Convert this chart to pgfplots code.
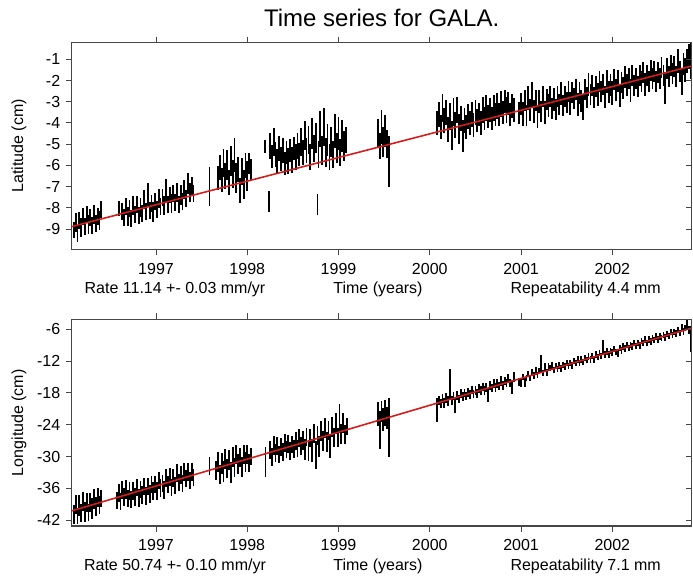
\documentclass[border=0pt]{standalone}
\usepackage{fontspec}
\setmainfont{Liberation Sans}
\usepackage{pgfplots}
\usepackage{pgfplotstable}
\pgfplotsset{compat=1.18}

\definecolor{fitred}{RGB}{210,30,30}
\definecolor{frame}{RGB}{70,70,70}

% daily latitude positions (cm): time, value, half error bar
\pgfplotstableread{
t y e
1996.10 -9.05 0.40
1996.12 -8.70 0.45
1996.14 -9.20 0.40
1996.16 -8.60 0.40
1996.18 -8.95 0.45
1996.20 -8.40 0.40
1996.22 -8.90 0.40
1996.24 -8.30 0.40
1996.26 -8.80 0.45
1996.28 -8.45 0.40
1996.30 -8.85 0.40
1996.32 -8.30 0.45
1996.34 -8.75 0.40
1996.36 -8.40 0.40
1996.38 -8.60 0.45
1996.40 -8.10 0.40
1996.59 -8.05 0.35
1996.63 -8.20 0.40
1996.65 -8.45 0.40
1996.67 -7.95 0.40
1996.69 -8.40 0.45
1996.71 -8.05 0.40
1996.73 -8.50 0.40
1996.75 -7.90 0.45
1996.77 -8.30 0.40
1996.79 -7.85 0.40
1996.81 -8.35 0.40
1996.83 -8.00 0.45
1996.85 -8.25 0.40
1996.87 -7.60 0.45
1996.89 -8.20 0.40
1996.91 -7.40 0.55
1996.93 -8.15 0.40
1996.95 -7.80 0.40
1996.97 -8.20 0.45
1996.99 -7.70 0.40
1997.01 -8.10 0.40
1997.03 -7.55 0.45
1997.05 -7.95 0.40
1997.07 -7.50 0.40
1997.09 -7.90 0.45
1997.11 -7.20 0.55
1997.13 -7.85 0.40
1997.15 -7.40 0.40
1997.17 -7.80 0.45
1997.19 -7.35 0.40
1997.21 -7.75 0.40
1997.23 -7.30 0.45
1997.25 -7.85 0.40
1997.27 -7.40 0.45
1997.29 -7.70 0.40
1997.31 -7.15 0.45
1997.33 -7.55 0.40
1997.35 -6.85 0.50
1997.37 -7.30 0.45
1997.39 -7.00 0.45
1997.41 -7.35 0.40
1997.585 -7.00 0.90
1997.68 -6.60 0.55
1997.70 -6.10 0.60
1997.72 -6.70 0.55
1997.74 -5.90 0.65
1997.76 -6.50 0.60
1997.78 -6.00 0.70
1997.80 -6.80 0.60
1997.82 -5.80 0.70
1997.84 -6.40 0.65
1997.86 -5.50 0.80
1997.88 -6.60 0.70
1997.90 -6.20 0.60
1997.92 -7.20 0.60
1997.94 -6.30 0.65
1997.96 -6.90 0.70
1997.98 -6.00 0.60
1998.00 -6.50 0.70
1998.02 -5.90 0.50
1998.04 -6.20 0.50
1998.19 -5.10 0.30
1998.235 -7.70 0.50
1998.25 -5.10 0.60
1998.27 -5.60 0.55
1998.29 -4.90 0.65
1998.31 -5.50 0.60
1998.33 -5.80 0.55
1998.35 -5.20 0.60
1998.37 -5.70 0.55
1998.39 -5.30 0.60
1998.41 -5.90 0.55
1998.43 -5.40 0.55
1998.45 -5.80 0.60
1998.47 -5.30 0.55
1998.49 -5.75 0.60
1998.51 -5.20 0.55
1998.53 -5.60 0.60
1998.55 -5.10 0.60
1998.57 -5.50 0.55
1998.59 -4.90 0.65
1998.61 -5.40 0.60
1998.63 -4.60 0.70
1998.65 -5.30 0.60
1998.67 -4.80 0.65
1998.69 -5.60 0.60
1998.71 -4.50 0.75
1998.73 -5.20 0.65
1998.75 -4.70 0.70
1998.77 -7.85 0.50
1998.78 -5.50 0.65
1998.80 -4.30 0.85
1998.82 -5.30 0.70
1998.84 -4.20 0.90
1998.86 -5.40 0.70
1998.88 -4.80 0.75
1998.90 -5.60 0.60
1998.92 -4.90 0.70
1998.94 -5.50 0.65
1998.96 -4.40 0.80
1998.98 -5.20 0.70
1999.00 -4.50 0.80
1999.02 -5.40 0.65
1999.04 -4.60 0.75
1999.06 -5.10 0.70
1999.08 -4.80 0.60
1999.43 -4.50 0.70
1999.45 -5.10 0.60
1999.47 -4.20 0.80
1999.49 -4.90 0.70
1999.51 -4.40 0.75
1999.53 -5.00 0.65
1999.55 -5.80 1.20
2000.08 -4.00 0.55
2000.10 -3.60 0.60
2000.12 -4.20 0.55
2000.14 -3.30 0.65
2000.16 -3.90 0.60
2000.18 -3.50 0.60
2000.20 -4.30 0.60
2000.22 -3.70 0.65
2000.24 -4.60 0.70
2000.26 -3.50 0.65
2000.28 -4.10 0.60
2000.30 -3.40 0.60
2000.32 -4.30 0.70
2000.34 -3.80 0.60
2000.36 -4.60 0.75
2000.38 -3.90 0.60
2000.40 -4.20 0.55
2000.42 -3.70 0.60
2000.44 -4.00 0.55
2000.46 -3.60 0.60
2000.48 -4.10 0.55
2000.50 -3.50 0.60
2000.52 -3.90 0.55
2000.54 -3.60 0.55
2000.56 -4.00 0.55
2000.58 -3.40 0.60
2000.60 -3.80 0.55
2000.62 -3.30 0.60
2000.64 -3.70 0.55
2000.66 -3.40 0.55
2000.68 -3.80 0.55
2000.70 -3.30 0.60
2000.72 -3.60 0.55
2000.74 -3.20 0.60
2000.76 -3.60 0.55
2000.78 -3.10 0.60
2000.80 -3.50 0.55
2000.82 -3.00 0.55
2000.84 -3.40 0.60
2000.86 -3.10 0.55
2000.88 -3.60 0.55
2000.90 -3.20 0.55
2000.92 -3.40 0.55
2000.98 -3.53 0.50
2001.00 -3.11 0.50
2001.02 -3.58 0.55
2001.04 -2.96 0.50
2001.06 -3.64 0.50
2001.08 -2.82 0.55
2001.10 -3.39 0.50
2001.12 -2.67 0.60
2001.14 -3.45 0.55
2001.16 -2.93 0.50
2001.18 -3.71 0.55
2001.20 -2.98 0.55
2001.22 -3.46 0.50
2001.24 -2.74 0.50
2001.26 -3.52 0.55
2001.28 -2.89 0.50
2001.30 -3.17 0.55
2001.32 -2.75 0.50
2001.34 -3.33 0.50
2001.36 -2.90 0.55
2001.38 -3.38 0.50
2001.40 -2.76 0.50
2001.42 -3.14 0.50
2001.44 -2.62 0.55
2001.46 -3.19 0.50
2001.48 -2.77 0.50
2001.50 -3.05 0.50
2001.52 -2.53 0.50
2001.54 -3.10 0.55
2001.56 -2.58 0.50
2001.58 -2.86 0.50
2001.60 -2.44 0.50
2001.62 -3.12 0.55
2001.64 -2.59 0.50
2001.66 -2.97 0.50
2001.68 -3.25 0.60
2001.70 -2.43 0.50
2001.72 -2.80 0.50
2001.74 -2.18 0.55
2001.76 -2.66 0.50
2001.78 -2.24 0.50
2001.80 -2.81 0.50
2001.82 -2.29 0.50
2001.84 -2.67 0.55
2001.86 -2.05 0.50
2001.88 -2.53 0.50
2001.90 -2.20 0.50
2001.92 -2.78 0.50
2001.94 -2.06 0.55
2001.96 -2.54 0.50
2001.98 -2.21 0.50
2002.00 -2.59 0.55
2002.02 -1.97 0.50
2002.04 -2.45 0.50
2002.06 -2.03 0.50
2002.08 -2.70 0.55
2002.10 -2.08 0.50
2002.12 -2.36 0.50
2002.14 -1.84 0.50
2002.16 -2.21 0.50
2002.18 -1.89 0.50
2002.20 -2.47 0.55
2002.22 -1.75 0.50
2002.24 -2.22 0.50
2002.26 -1.90 0.50
2002.28 -2.28 0.50
2002.30 -1.76 0.50
2002.32 -2.04 0.50
2002.34 -1.61 0.50
2002.36 -2.19 0.55
2002.38 -1.77 0.50
2002.40 -2.05 0.50
2002.42 -1.53 0.50
2002.44 -1.90 0.50
2002.46 -1.58 0.50
2002.48 -2.06 0.50
2002.50 -1.64 0.50
2002.52 -1.91 0.50
2002.54 -1.39 0.50
2002.56 -1.77 0.50
2002.58 -2.35 0.75
2002.60 -1.42 0.50
2002.62 -1.80 0.50
2002.64 -1.28 0.50
2002.66 -1.66 0.50
2002.68 -1.34 0.50
2002.70 -1.81 0.50
2002.72 -1.09 0.55
2002.74 -1.57 0.50
2002.76 -2.05 0.65
2002.78 -1.22 0.50
2002.80 -1.50 0.55
2002.82 -1.08 0.55
2002.84 -0.86 0.60
2002.86 -1.10 0.85
}\latdata

% daily longitude positions (cm)
\pgfplotstableread{
t y e
1996.10 -40.93 1.7
1996.12 -39.13 1.8
1996.14 -41.13 1.5
1996.16 -39.22 1.9
1996.18 -40.62 1.7
1996.20 -38.42 1.8
1996.22 -40.52 1.9
1996.24 -38.62 1.8
1996.26 -40.62 1.6
1996.28 -38.72 1.8
1996.30 -39.81 1.9
1996.32 -38.01 1.8
1996.34 -39.41 1.8
1996.36 -37.71 1.8
1996.38 -39.11 1.7
1996.40 -37.91 1.6
1996.57 -38.24 1.6
1996.59 -36.84 1.7
1996.61 -38.54 1.6
1996.63 -36.24 1.7
1996.65 -37.64 1.7
1996.67 -36.24 1.8
1996.69 -37.94 1.6
1996.71 -36.43 1.7
1996.73 -38.13 1.6
1996.75 -36.43 1.7
1996.77 -37.63 1.7
1996.79 -35.93 1.6
1996.81 -37.83 1.7
1996.83 -36.22 1.6
1996.85 -37.32 1.7
1996.87 -35.72 1.6
1996.89 -37.52 1.7
1996.91 -35.72 1.6
1996.93 -37.02 1.7
1996.95 -35.21 1.6
1996.97 -36.41 1.7
1996.99 -35.21 1.6
1997.01 -36.51 1.7
1997.03 -34.61 1.6
1997.05 -35.91 1.7
1997.07 -35.01 1.6
1997.09 -36.30 1.7
1997.11 -34.10 1.7
1997.13 -35.30 1.6
1997.15 -33.80 1.7
1997.17 -35.80 1.6
1997.19 -34.10 1.7
1997.21 -35.39 1.6
1997.23 -33.09 1.7
1997.25 -34.89 1.6
1997.27 -33.49 1.7
1997.29 -35.09 1.6
1997.31 -32.89 1.7
1997.33 -34.18 1.6
1997.35 -32.88 1.7
1997.37 -34.48 1.6
1997.39 -32.98 1.7
1997.41 -33.98 1.6
1997.585 -31.80 1.7
1997.66 -32.71 1.8
1997.68 -31.11 1.9
1997.70 -33.41 1.8
1997.72 -31.31 1.9
1997.74 -32.81 2.0
1997.76 -30.41 1.9
1997.78 -32.20 1.8
1997.80 -30.60 1.9
1997.82 -33.00 2.0
1997.84 -30.10 1.9
1997.86 -32.00 1.8
1997.88 -29.60 1.8
1997.90 -31.39 1.9
1997.92 -30.19 1.8
1997.94 -31.99 1.9
1997.96 -29.69 1.8
1997.98 -31.09 1.9
1998.00 -29.69 1.8
1998.02 -31.28 1.7
1998.04 -29.98 1.6
1998.20 -31.00 2.8
1998.25 -28.72 1.7
1998.27 -30.02 1.7
1998.29 -27.92 1.8
1998.31 -29.41 1.7
1998.33 -28.01 1.7
1998.35 -29.71 1.6
1998.37 -28.21 1.7
1998.39 -29.21 1.7
1998.41 -27.51 1.7
1998.43 -28.70 1.6
1998.45 -27.60 1.7
1998.47 -29.00 1.7
1998.49 -27.70 1.6
1998.51 -28.50 1.7
1998.53 -27.00 1.7
1998.55 -28.49 1.6
1998.57 -26.59 1.7
1998.59 -27.99 1.7
1998.61 -26.99 1.8
1998.63 -28.69 1.9
1998.65 -26.29 1.7
1998.67 -28.88 2.0
1998.69 -26.48 1.7
1998.71 -28.88 2.2
1998.73 -25.68 1.8
1998.75 -29.68 2.6
1998.77 -25.98 1.8
1998.79 -28.07 2.0
1998.81 -25.17 1.9
1998.83 -27.07 1.8
1998.85 -24.67 1.9
1998.87 -27.27 1.9
1998.89 -25.07 1.8
1998.91 -28.06 2.2
1998.93 -24.46 1.9
1998.95 -26.36 1.8
1998.97 -23.76 2.0
1998.99 -26.36 1.8
1999.01 -22.86 2.8
1999.03 -25.75 1.8
1999.05 -23.75 1.9
1999.07 -25.85 1.7
1999.09 -24.35 1.6
1999.43 -22.00 2.2
1999.45 -25.00 3.6
1999.47 -21.50 2.0
1999.49 -23.00 2.2
1999.51 -21.80 2.4
1999.53 -22.80 2.1
1999.55 -24.50 5.5
2000.08 -21.20 2.3
2000.10 -19.43 0.9
2000.12 -20.03 0.9
2000.14 -19.03 0.9
2000.16 -19.93 1.0
2000.18 -18.92 0.9
2000.20 -19.52 0.9
2000.22 -16.32 2.9
2000.24 -19.42 0.9
2000.26 -18.62 0.8
2000.28 -20.42 1.4
2000.30 -18.51 0.8
2000.32 -19.11 0.8
2000.34 -18.11 0.8
2000.36 -18.71 0.8
2000.38 -18.01 0.8
2000.40 -18.61 0.8
2000.42 -17.90 0.8
2000.44 -18.30 0.8
2000.46 -17.50 0.8
2000.48 -18.20 0.8
2000.50 -17.60 0.8
2000.52 -18.10 0.8
2000.54 -17.19 0.8
2000.56 -17.59 0.8
2000.58 -16.89 0.8
2000.60 -17.59 0.8
2000.62 -16.99 0.8
2000.64 -18.39 1.3
2000.66 -16.58 0.8
2000.68 -17.08 0.8
2000.70 -16.28 0.8
2000.72 -16.98 0.8
2000.74 -16.28 0.8
2000.76 -16.68 0.8
2000.78 -15.77 0.9
2000.80 -16.57 0.8
2000.82 -15.77 0.8
2000.84 -16.17 0.8
2000.86 -15.27 0.9
2000.88 -16.17 0.8
2000.90 -16.96 1.3
2000.92 -15.06 0.9
2000.98 -15.97 0.8
2001.00 -16.17 0.7
2001.02 -14.96 0.6
2001.04 -16.06 0.8
2001.06 -15.16 0.6
2001.08 -14.46 0.6
2001.10 -15.16 0.6
2001.12 -14.16 0.6
2001.14 -14.76 0.6
2001.16 -13.85 0.7
2001.18 -14.65 0.6
2001.20 -13.85 0.6
2001.22 -12.45 1.6
2001.24 -14.25 0.6
2001.26 -13.15 0.7
2001.28 -14.14 0.6
2001.30 -13.14 0.7
2001.32 -13.34 0.6
2001.34 -12.84 0.6
2001.36 -13.64 0.6
2001.38 -12.94 0.6
2001.40 -13.53 0.6
2001.42 -12.83 0.6
2001.44 -13.43 0.6
2001.46 -12.73 0.6
2001.48 -13.03 0.6
2001.50 -12.33 0.6
2001.52 -12.92 0.6
2001.54 -12.32 0.6
2001.56 -12.82 0.6
2001.58 -12.02 0.6
2001.60 -12.42 0.6
2001.62 -11.72 0.6
2001.64 -12.31 0.6
2001.66 -11.71 0.6
2001.68 -12.21 0.6
2001.70 -11.41 0.6
2001.72 -11.81 0.6
2001.74 -11.11 0.6
2001.76 -11.70 0.6
2001.78 -11.10 0.6
2001.80 -11.70 0.7
2001.82 -10.80 0.6
2001.84 -11.20 0.6
2001.86 -10.50 0.6
2001.88 -11.09 0.6
2001.90 -9.29 1.3
2001.92 -10.79 0.6
2001.94 -10.19 0.6
2001.96 -10.79 0.6
2001.98 -10.09 0.6
2002.00 -10.38 0.6
2002.02 -9.68 0.6
2002.04 -10.28 0.6
2002.06 -10.48 0.7
2002.08 -9.58 0.6
2002.10 -9.98 0.6
2002.12 -9.27 0.6
2002.14 -9.67 0.6
2002.16 -8.97 0.6
2002.18 -9.57 0.6
2002.20 -8.97 0.6
2002.22 -9.27 0.6
2002.24 -8.56 0.6
2002.26 -9.16 0.6
2002.28 -8.56 0.6
2002.30 -9.06 0.6
2002.32 -8.26 0.6
2002.34 -8.56 0.6
2002.36 -7.95 0.6
2002.38 -8.55 0.6
2002.40 -7.95 0.6
2002.42 -8.35 0.6
2002.44 -7.65 0.6
2002.46 -8.05 0.6
2002.48 -7.34 0.6
2002.50 -7.94 0.6
2002.52 -7.34 0.6
2002.54 -7.64 0.6
2002.56 -7.04 0.6
2002.58 -7.54 0.6
2002.60 -6.93 0.6
2002.62 -7.23 0.6
2002.64 -6.53 0.6
2002.66 -7.13 0.6
2002.68 -6.53 0.6
2002.70 -6.83 0.6
2002.72 -6.12 0.6
2002.74 -6.72 0.6
2002.76 -5.72 0.7
2002.78 -6.42 0.6
2002.80 -5.82 0.6
2002.82 -5.22 0.9
2002.84 -6.11 0.7
2002.86 -7.81 2.5
}\londata

\pgfplotsset{
  gps/.style={
    width=620pt, height=206.6pt, scale only axis,
    xmin=1996.076, xmax=2002.87,
    xtick={1997,1998,1999,2000,2001,2002},
    /pgf/number format/1000 sep={},
    /pgf/number format/assume math mode=true,
    tick align=outside, major tick length=6pt,
    ytick pos=left,
    tick label style={font=\fontsize{16}{19}\selectfont},
    xticklabel style={yshift=-4pt},
    yticklabel style={xshift=-2pt},
    label style={font=\fontsize{16}{19}\selectfont},
    ylabel style={at={(axis description cs:-0.085,0.5)}, anchor=center},
    axis line style={draw=frame, line width=1.2pt},
    tick style={draw=frame, line width=0.8pt},
    clip mode=individual,
  },
  % inner ticks on the right-hand side
  rightticks/.style={
    width=620pt, height=206.6pt, scale only axis,
    xmin=1996.076, xmax=2002.87, xtick=\empty,
    ytick pos=right, tick align=inside, major tick length=6pt,
    yticklabels={},
    axis line style={draw=frame, line width=1.2pt},
    tick style={draw=frame, line width=0.8pt},
  },
  gpsbars/.style={draw=none, mark=none,
    error bars/.cd, y dir=both, y explicit, error mark=none,
    error bar style={draw=black, line width=1.8pt}},
}
\tikzset{txt/.style={anchor=base, yshift=-44pt, font=\fontsize{16}{19}\selectfont}}

\begin{document}
\begin{tikzpicture}
\useasboundingbox (-71.7pt,-328.7pt) rectangle (621.3pt,249.3pt);

\begin{axis}[gps, at={(0,0)}, anchor=south west,
    ymin=-9.96, ymax=-0.22, ytick={-9,-8,...,-1},
    ylabel={Latitude (cm)}]
\addplot[gpsbars] table[x=t, y=y, y error=e] {\latdata};
\addplot[fitred, line width=1.6pt] coordinates {(1996.076,-8.89) (2002.87,-1.32)};
\node[anchor=base, font=\fontsize{24}{28}\selectfont, yshift=15.7pt] at (axis description cs:0.5,1) {Time series for GALA.};
\node[txt] at (axis description cs:0.1666,0) {Rate 11.14 +- 0.03 mm/yr};
\node[txt] at (axis description cs:0.494,0) {Time (years)};
\node[txt] at (axis description cs:0.829,0) {Repeatability 4.4 mm};
\end{axis}
\begin{axis}[rightticks, at={(0,0)}, anchor=south west,
    ymin=-9.96, ymax=-0.22, ytick={-9,-8,...,-1}]
\end{axis}

\begin{axis}[gps, at={(0,-276.7pt)}, anchor=south west,
    ymin=-43.1, ymax=-4.15, ytick={-42,-36,...,-6},
    ylabel={Longitude (cm)}]
\addplot[gpsbars] table[x=t, y=y, y error=e] {\londata};
\addplot[fitred, line width=1.6pt] coordinates {(1996.076,-40.25) (2002.87,-5.78)};
\node[txt] at (axis description cs:0.1666,0) {Rate 50.74 +- 0.10 mm/yr};
\node[txt] at (axis description cs:0.494,0) {Time (years)};
\node[txt] at (axis description cs:0.829,0) {Repeatability 7.1 mm};
\end{axis}
\begin{axis}[rightticks, at={(0,-276.7pt)}, anchor=south west,
    ymin=-43.1, ymax=-4.15, ytick={-42,-36,...,-6}]
\end{axis}
\end{tikzpicture}
\end{document}
